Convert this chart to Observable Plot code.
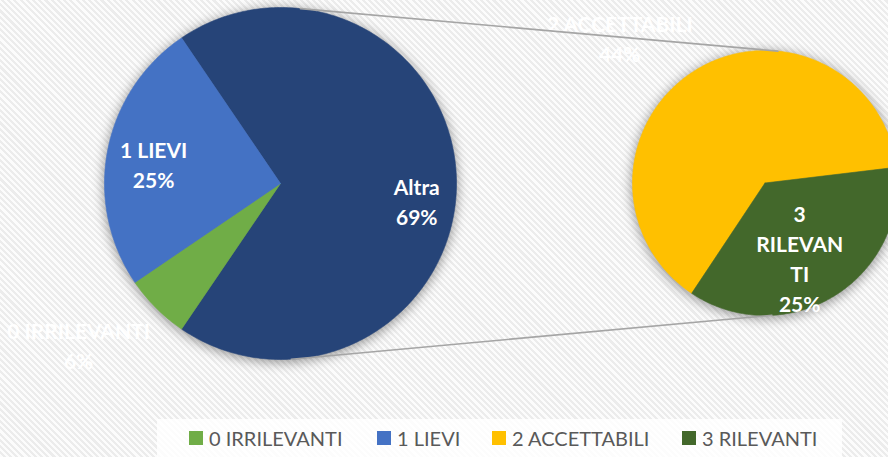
<!DOCTYPE html>
<html><head><meta charset="utf-8">
<script src="https://cdn.jsdelivr.net/npm/d3@7"></script>
<script src="https://cdn.jsdelivr.net/npm/@observablehq/plot@0.6"></script>
<style>
html,body{margin:0;padding:0}
body{width:888px;height:457px;overflow:hidden;position:relative;
  background:repeating-linear-gradient(45deg,#fcfcfc 0px,#fcfcfc 2.2px,#ececec 2.2px,#ececec 4.4px);
  font-family:Lato,"Liberation Sans",sans-serif;}
#chart svg{display:block;overflow:visible;background:transparent}
#legend{position:absolute;left:157px;top:419px;width:685px;height:38px;background:rgba(255,255,255,0.82);}
#legend .item{position:absolute;top:0;height:38px;display:flex;align-items:center;color:#595959;font-size:20px;white-space:nowrap}
#legend .sw{width:14px;height:14px;margin-right:6px;flex:none}
</style></head><body>
<div id="chart"></div><div id="legend"></div>
<script>
// ---- data ----
const categories = ["0 IRRILEVANTI", "1 LIEVI", "2 ACCETTABILI", "3 RILEVANTI"];
const values = [6, 25, 44, 25];               // percent
const otherLabel = "Altra";
const secondPlotCount = 2;                     // last 2 categories go to the second pie
const labelText = ["0 IRRILEVANTI", "1 LIEVI", "2 ACCETTABILI", "3\nRILEVAN\nTI"]; // wrapped as displayed
// ---- styles ----
const palette = ["#70AD47", "#4472C4", "#FFC000", "#43682B"];
const otherColor = "#264478";

// ---- layout (pixel units) ----
const W = 888, H = 419;
const pie1 = {cx: 280, cy: 183, r: 176};
const pie2 = {cx: 764.5, cy: 182.5, r: 132.5};
const rad = d => d * Math.PI / 180;
const labelPolar1 = {"0 IRRILEVANTI": [231.5, 1.466], "1 LIEVI": [279, 0.73], "Altra": [97, 0.78]};
const labelPolar2 = {"2 ACCETTABILI": [315, 1.55], "3 RILEVANTI": [155, 0.62]};
const pie2Start = 213.6;

const n1 = categories.length - secondPlotCount;
const otherValue = d3.sum(values.slice(n1));
const first = [{key: otherLabel, value: otherValue, text: otherLabel, color: otherColor}]
  .concat(categories.slice(0, n1).map((c, i) => ({key: c, value: values[i], text: labelText[i], color: palette[i]})));
const second = categories.slice(n1).map((c, j) => ({key: c, value: values[n1 + j], text: labelText[n1 + j], color: palette[n1 + j]}));

// wedge outline points for each slice (centre -> arc -> centre)
function slicePoints(items, pie, startDeg) {
  const total = d3.sum(items, d => d.value);
  let a = startDeg;
  for (const it of items) {
    const span = it.value / total * 360;
    const pts = [{x: pie.cx, y: pie.cy}];
    const steps = Math.max(2, Math.ceil(span));
    for (let k = 0; k <= steps; k++) {
      const t = rad(a + span * k / steps);
      pts.push({x: pie.cx + pie.r * Math.sin(t), y: pie.cy - pie.r * Math.cos(t)});
    }
    pts.push({x: pie.cx, y: pie.cy});
    it.points = pts;
    a += span;
  }
}
const altraSpan = otherValue / d3.sum(values) * 360;
slicePoints(first, pie1, 90 - altraSpan / 2);
slicePoints(second, pie2, pie2Start);

function labelPoints(items, pie, polar) {
  return items.map(it => {
    const [ang, f] = polar[it.key];
    const pct = Math.round(it.value / d3.sum(values) * 100);
    return {x: pie.cx + f * pie.r * Math.sin(rad(ang)), y: pie.cy - f * pie.r * Math.cos(rad(ang)),
            label: it.text + "\n" + pct + "%"};
  });
}
const labels = labelPoints(first, pie1, labelPolar1).concat(labelPoints(second, pie2, labelPolar2));

const onPie = (p, deg) => ({x: p.cx + p.r * Math.sin(rad(deg)), y: p.cy - p.r * Math.cos(rad(deg))});
const connectors = [
  Object.assign({id: "top"}, onPie(pie1, 6.5)), Object.assign({id: "top"}, onPie(pie2, 5.6)),
  Object.assign({id: "bot"}, onPie(pie1, 176.5)), Object.assign({id: "bot"}, onPie(pie2, 177))
];
const shadowPts = [pie1, pie2].map(p => ({x: p.cx, y: p.cy + 2, r: p.r + 1}));

const chart = Plot.plot({
  width: W, height: H, margin: 0,
  x: {domain: [0, W], range: [0, W], axis: null},
  y: {domain: [0, H], range: [0, H], axis: null},
  r: {type: "identity"},
  style: {background: "transparent", fontFamily: "Lato, 'Liberation Sans', sans-serif"},
  marks: [
    Plot.dot(shadowPts, {x: "x", y: "y", r: "r", fill: "#000", fillOpacity: 0.4, stroke: "none"}),
    ...first.concat(second).map(it =>
      Plot.line(it.points, {x: "x", y: "y", fill: it.color, stroke: it.color, strokeWidth: 0.6})),
    Plot.text(labels, {x: "x", y: "y", text: "label", fill: "white", fontSize: 21, fontWeight: "bold", lineHeight: 1.42}),
    Plot.line(connectors, {x: "x", y: "y", z: "id", stroke: "#a5a5a5", strokeWidth: 1.6})
  ]
});
// soft shadow via an SVG blur filter on the dot layer
const svg = d3.select(chart);
svg.insert("defs", ":first-child").html('<filter id="pieShadow" x="-20%" y="-20%" width="140%" height="140%"><feGaussianBlur stdDeviation="6"/></filter>');
svg.selectAll('g[aria-label="dot"]').attr("filter", "url(#pieShadow)");
document.getElementById("chart").appendChild(chart);

const legendX = [32, 220, 335, 525];
const leg = document.getElementById("legend");
categories.forEach((c, i) => {
  const it = document.createElement("div");
  it.className = "item";
  it.style.left = legendX[i] + "px";
  it.innerHTML = `<span class="sw" style="background:${palette[i]}"></span><span>${c}</span>`;
  leg.appendChild(it);
});
</script>
</body></html>
